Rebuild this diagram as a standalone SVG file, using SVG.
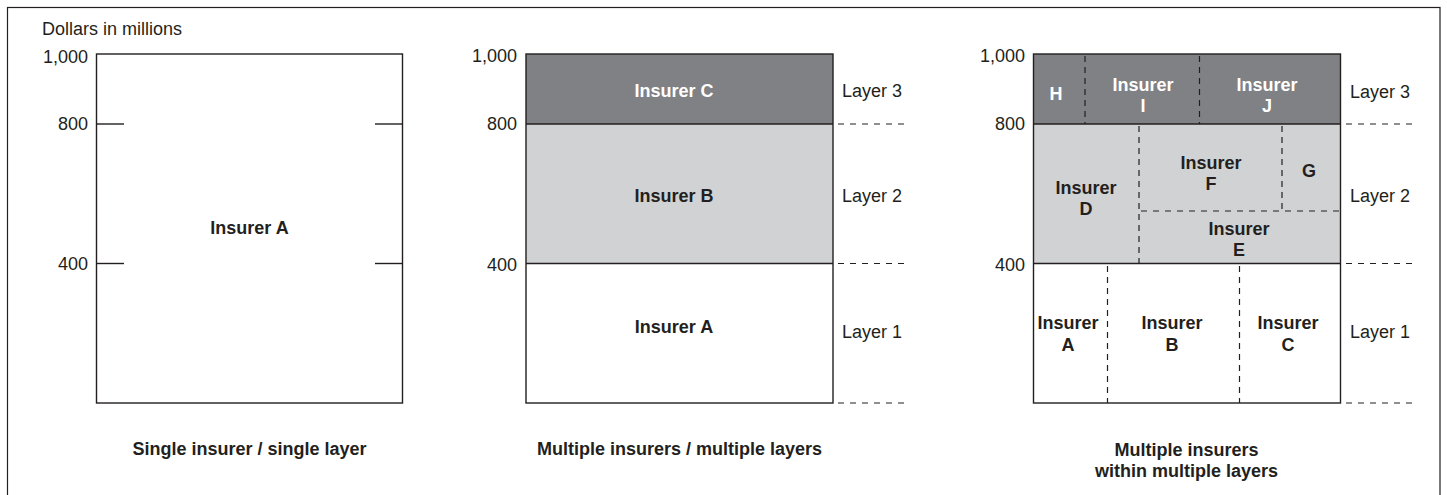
<svg xmlns="http://www.w3.org/2000/svg" width="1447" height="495" viewBox="0 0 1447 495">
<style>
text{font-family:"Liberation Sans",Arial,sans-serif;fill:#231f20}
.r{font-size:18px}
.b{font-size:18px;font-weight:bold;text-anchor:middle}
.w{fill:#ffffff}
.e{text-anchor:end}
.box{stroke:#231f20;stroke-width:1.4}
.d{stroke:#231f20;stroke-width:1.2;stroke-dasharray:6,6;fill:none}
.dv{stroke:#231f20;stroke-width:1.2;stroke-dasharray:6,5;fill:none}
.s{stroke:#231f20;stroke-width:1.4;fill:none}
</style>
<rect x="7.5" y="7.5" width="1432.5" height="495" fill="#ffffff" stroke="#231f20" stroke-width="1.2"/>
<text class="r" x="42" y="35">Dollars in millions</text>

<g id="chart1">
<rect class="box" x="96.5" y="54" width="306" height="349" fill="#ffffff"/>
<line class="s" x1="96.5" y1="124" x2="124" y2="124"/>
<line class="s" x1="375" y1="124" x2="402.5" y2="124"/>
<line class="s" x1="96.5" y1="263.5" x2="124" y2="263.5"/>
<line class="s" x1="375" y1="263.5" x2="402.5" y2="263.5"/>
<text class="r e" x="88" y="63">1,000</text>
<text class="r e" x="88" y="130">800</text>
<text class="r e" x="88" y="270">400</text>
<text class="b" x="249.5" y="234">Insurer A</text>
<text class="b" x="249.5" y="455">Single insurer / single layer</text>
</g>

<g id="chart2">
<rect x="526" y="54" width="307" height="70" fill="#808184"/>
<rect x="526" y="124" width="307" height="139.5" fill="#d1d2d4"/>
<rect x="526" y="263.5" width="307" height="139.5" fill="#ffffff"/>
<rect class="box" x="526" y="54" width="307" height="349" fill="none"/>
<line class="s" x1="526" y1="124" x2="833" y2="124"/>
<line class="s" x1="526" y1="263.5" x2="833" y2="263.5"/>
<text class="r e" x="517" y="62">1,000</text>
<text class="r e" x="517" y="130">800</text>
<text class="r e" x="517" y="271">400</text>
<text class="b w" x="674" y="97">Insurer C</text>
<text class="b" x="674" y="202">Insurer B</text>
<text class="b" x="674" y="333">Insurer A</text>
<text class="r" x="842" y="97">Layer 3</text>
<text class="r" x="842" y="202">Layer 2</text>
<text class="r" x="842" y="338">Layer 1</text>
<text class="b" x="679.5" y="455">Multiple insurers / multiple layers</text>
</g>

<g id="chart3">
<rect x="1033.5" y="54" width="307" height="70" fill="#808184"/>
<rect x="1033.5" y="124" width="307" height="139.5" fill="#d1d2d4"/>
<rect x="1033.5" y="263.5" width="307" height="139.5" fill="#ffffff"/>
<rect class="box" x="1033.5" y="54" width="307" height="349" fill="none"/>
<line class="s" x1="1033.5" y1="124" x2="1340.5" y2="124"/>
<line class="s" x1="1033.5" y1="263.5" x2="1340.5" y2="263.5"/>
<text class="r e" x="1025" y="62">1,000</text>
<text class="r e" x="1025" y="130">800</text>
<text class="r e" x="1025" y="271">400</text>
<text class="b w" x="1056" y="100">H</text>
<text class="b w" x="1143" y="91">Insurer</text>
<text class="b w" x="1143" y="112">I</text>
<text class="b w" x="1267" y="91">Insurer</text>
<text class="b w" x="1267" y="112">J</text>
<text class="b" x="1086" y="194">Insurer</text>
<text class="b" x="1086" y="215">D</text>
<text class="b" x="1211" y="169">Insurer</text>
<text class="b" x="1211" y="190">F</text>
<text class="b" x="1309" y="177">G</text>
<text class="b" x="1239" y="235">Insurer</text>
<text class="b" x="1239" y="256">E</text>
<text class="b" x="1068" y="329">Insurer</text>
<text class="b" x="1068" y="351">A</text>
<text class="b" x="1172" y="329">Insurer</text>
<text class="b" x="1172" y="351">B</text>
<text class="b" x="1288" y="329">Insurer</text>
<text class="b" x="1288" y="351">C</text>
<text class="r" x="1350" y="98">Layer 3</text>
<text class="r" x="1350" y="202">Layer 2</text>
<text class="r" x="1350" y="338">Layer 1</text>
<text class="b" x="1186.5" y="456">Multiple insurers</text>
<text class="b" x="1186.5" y="477">within multiple layers</text>
</g>

<g id="connectors">
<line class="d" x1="838" y1="124" x2="908" y2="124"/>
<line class="d" x1="838" y1="263.5" x2="908" y2="263.5"/>
<line class="d" x1="838" y1="403" x2="908" y2="403"/>
<line class="d" x1="1346" y1="124" x2="1417" y2="124"/>
<line class="d" x1="1346" y1="263.5" x2="1417" y2="263.5"/>
<line class="d" x1="1346" y1="403" x2="1417" y2="403"/>
<line class="dv" x1="1085" y1="56" x2="1085" y2="124"/>
<line class="dv" x1="1199.5" y1="56" x2="1199.5" y2="124"/>
<line class="dv" x1="1139" y1="126" x2="1139" y2="263.5"/>
<line class="dv" x1="1282" y1="126" x2="1282" y2="211"/>
<line class="d" x1="1141" y1="211" x2="1342" y2="211"/>
<line class="dv" x1="1107.5" y1="266" x2="1107.5" y2="403"/>
<line class="dv" x1="1239.5" y1="266" x2="1239.5" y2="403"/>
</g>
</svg>
